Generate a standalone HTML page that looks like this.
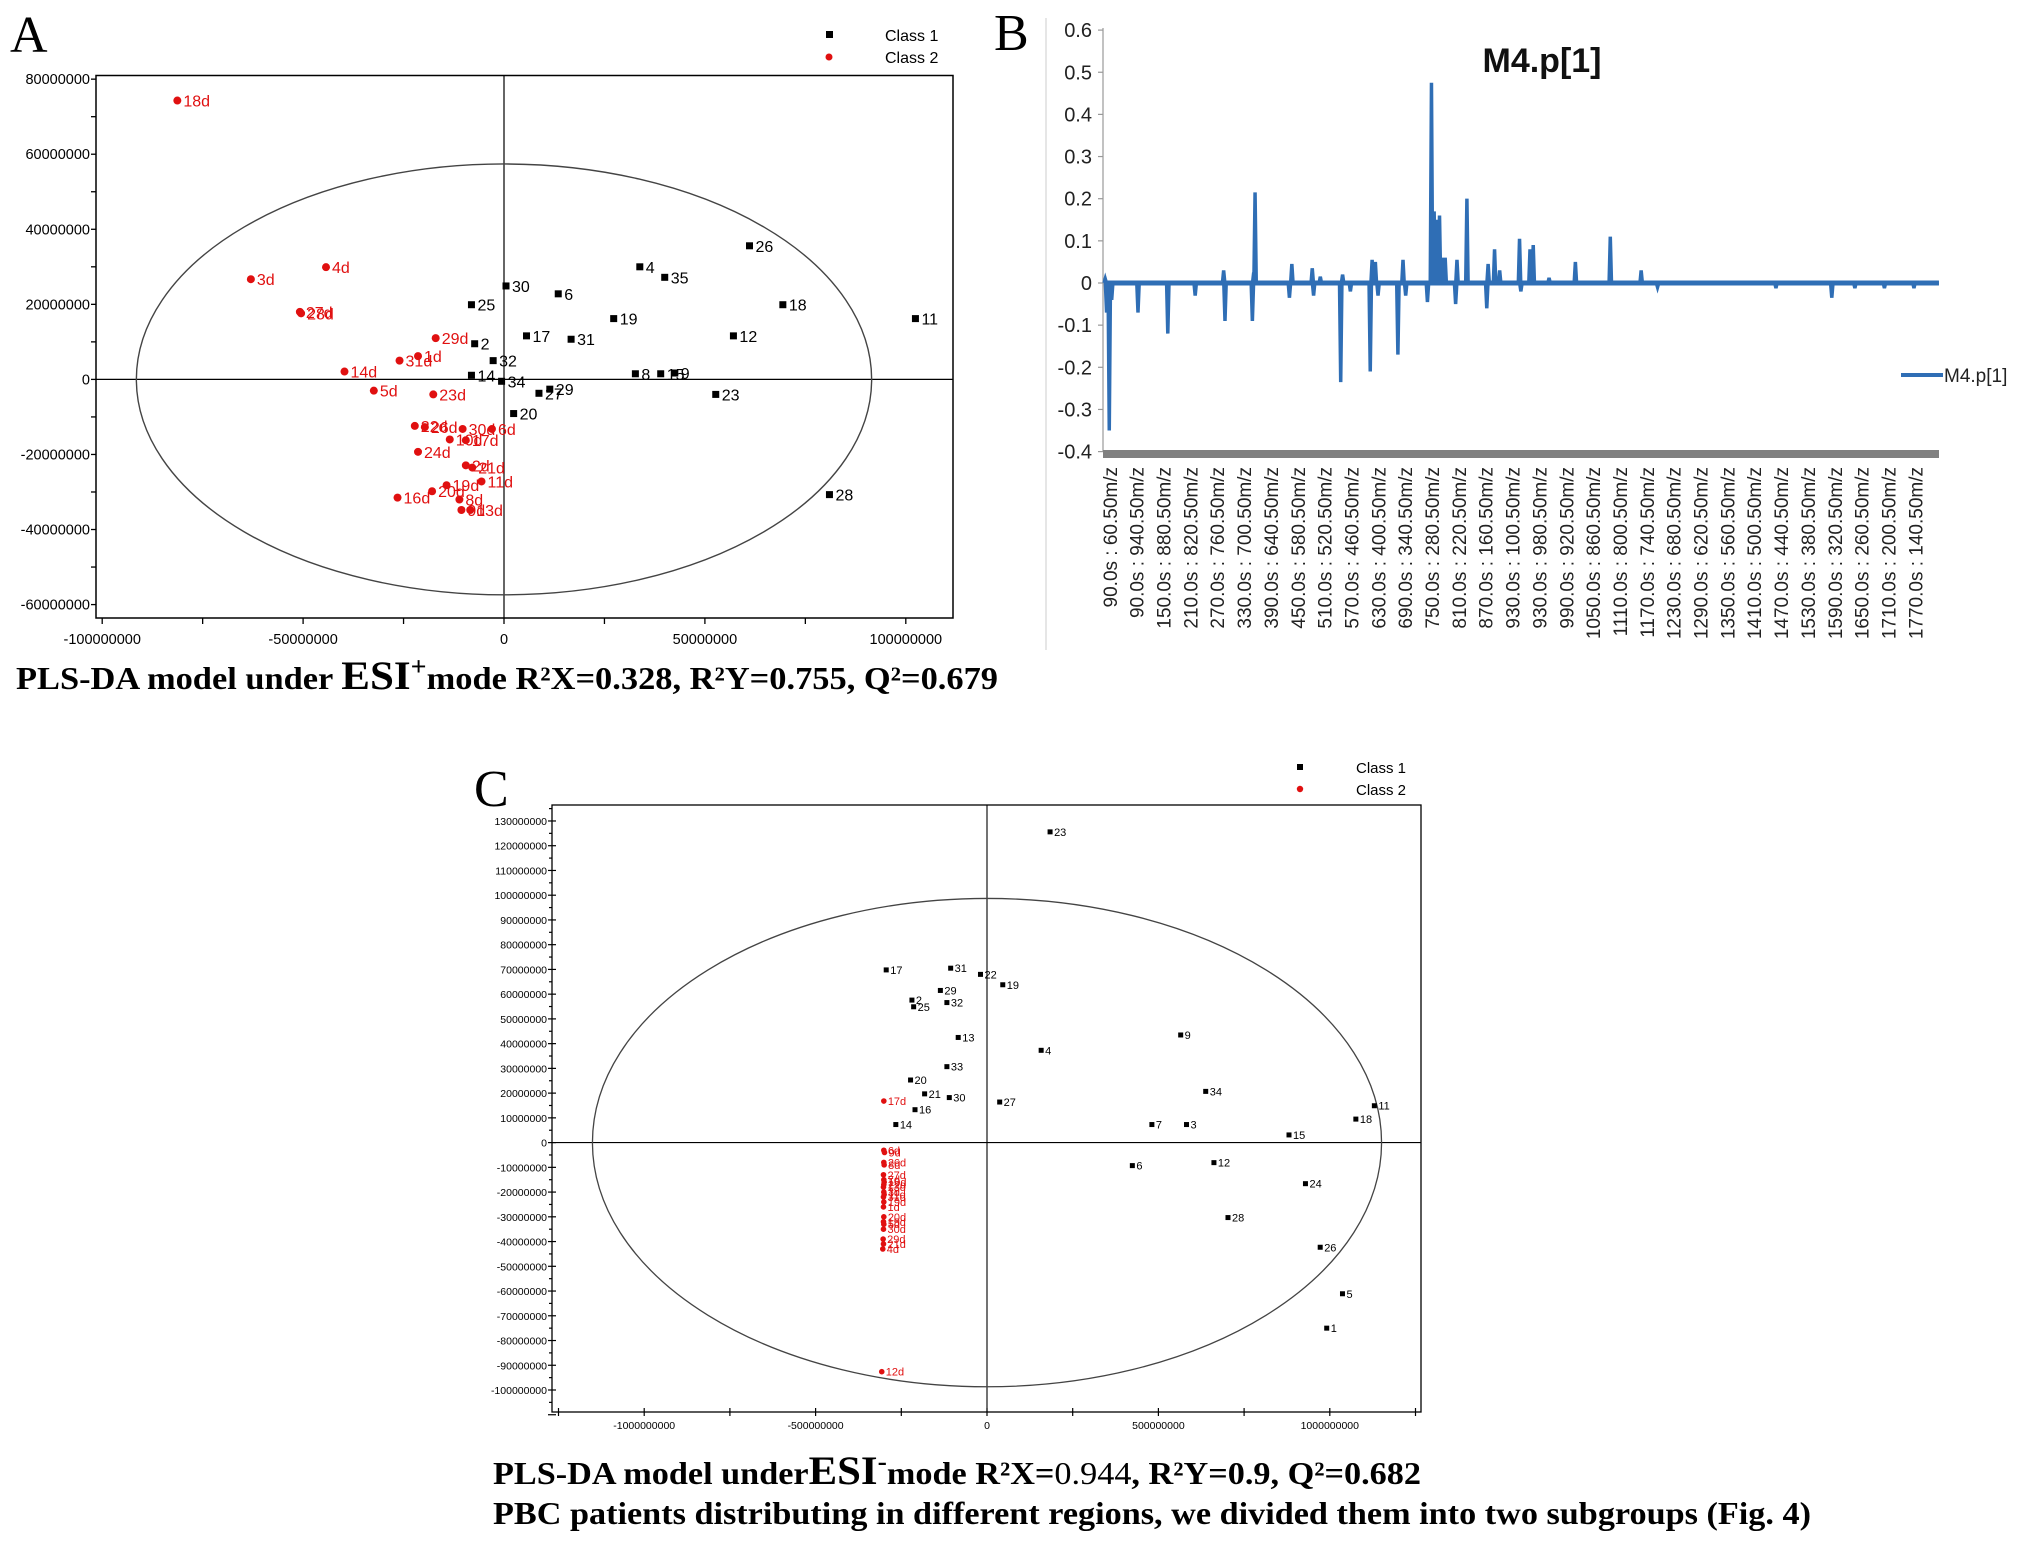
<!DOCTYPE html>
<html><head><meta charset="utf-8"><style>
html,body{margin:0;padding:0;background:#fff}
svg{display:block}
text{font-family:"Liberation Sans",sans-serif}
.serif{font-family:"Liberation Serif",serif;font-weight:bold}
</style></head><body>
<svg id="fig" width="2031" height="1546" viewBox="0 0 2031 1546" xmlns="http://www.w3.org/2000/svg">
<text x="10" y="52" class="serif" style="font-weight:normal" font-size="52">A</text>
<text x="994" y="50" class="serif" style="font-weight:normal" font-size="52">B</text>
<text x="474" y="806" class="serif" style="font-weight:normal" font-size="52">C</text>
<g id="A"></g>
<g id="B"></g>
<g id="C"></g>
<text x="16" y="689" class="serif" font-size="32" textLength="982" lengthAdjust="spacingAndGlyphs">PLS-DA model under <tspan font-size="40">ESI</tspan><tspan font-size="26" dy="-14">+</tspan><tspan dy="14">mode R²X=0.328, R²Y=0.755, Q²=0.679</tspan></text>
<text x="493" y="1484" class="serif" font-size="32" textLength="928" lengthAdjust="spacingAndGlyphs">PLS-DA model under<tspan font-size="40">ESI</tspan><tspan font-size="26" dy="-14">-</tspan><tspan dy="14">mode R²X=</tspan><tspan style="font-weight:normal">0.944</tspan>, R²Y=0.9, Q²=0.682</text>
<text x="493" y="1524" class="serif" font-size="32" textLength="1318" lengthAdjust="spacingAndGlyphs">PBC patients distributing in different regions, we divided them into two subgroups (Fig. 4)</text>
</svg>
<script>
const NS="http://www.w3.org/2000/svg";
// ---------- Panel A data (millions) ----------
const aC1Labels=["26","4","35","30","6","25","18","19","11","17","12","31","2","32","14","34","8","15","9","29","27","23","20","28"];
const aC1X=[61.1,33.8,40,0.5,13.5,-8.1,69.4,27.3,102.4,5.6,57.1,16.7,-7.3,-2.7,-8.1,-0.6,32.7,39,42.5,11.4,8.7,52.7,2.4,81];
const aC1Y=[35.6,30,27.2,24.9,22.8,19.9,19.9,16.2,16.2,11.6,11.6,10.7,9.5,5,1.1,-0.5,1.5,1.5,1.7,-2.6,-3.7,-4,-9.1,-30.7];
const aC2Labels=["18d","4d","3d","27d","28d","29d","1d","31d","14d","5d","23d","22d","26d","30d","6d","10d","17d","24d","2d","21d","11d","19d","20d","16d","8d","9d","13d"];
const aC2X=[-81.3,-44.3,-63,-50.8,-50.5,-17,-21.4,-26,-39.7,-32.4,-17.6,-22.2,-19.7,-10.3,-3,-13.5,-9.5,-21.4,-9.5,-7.9,-5.6,-14.3,-17.9,-26.5,-11.1,-10.6,-8.4];
const aC2Y=[74.3,29.9,26.7,18,17.6,11,6.2,5,2.1,-3,-4,-12.4,-12.7,-13.2,-13.2,-16,-16.2,-19.3,-22.9,-23.5,-27.2,-28.2,-29.8,-31.5,-32,-34.8,-34.8];
const aYTicks=[80,60,40,20,0,-20,-40,-60];
const aYTickLabels=["80000000","60000000","40000000","20000000","0","-20000000","-40000000","-60000000"];
const aXTicks=[-100,-50,0,50,100];
const aXTickLabels=["-100000000","-50000000","0","50000000","100000000"];
const aEllipse=[91.5,57.4];
// ---------- Panel B data ----------
const bCategories=["90.0s : 60.50m/z","90.0s : 940.50m/z","150.0s : 880.50m/z","210.0s : 820.50m/z","270.0s : 760.50m/z","330.0s : 700.50m/z","390.0s : 640.50m/z","450.0s : 580.50m/z","510.0s : 520.50m/z","570.0s : 460.50m/z","630.0s : 400.50m/z","690.0s : 340.50m/z","750.0s : 280.50m/z","810.0s : 220.50m/z","870.0s : 160.50m/z","930.0s : 100.50m/z","930.0s : 980.50m/z","990.0s : 920.50m/z","1050.0s : 860.50m/z","1110.0s : 800.50m/z","1170.0s : 740.50m/z","1230.0s : 680.50m/z","1290.0s : 620.50m/z","1350.0s : 560.50m/z","1410.0s : 500.50m/z","1470.0s : 440.50m/z","1530.0s : 380.50m/z","1590.0s : 320.50m/z","1650.0s : 260.50m/z","1710.0s : 200.50m/z","1770.0s : 140.50m/z"];
const bSpikePos=[-0.17,-0.12,-0.02,0.07,1.05,2.16,3.18,4.24,4.29,5.31,5.36,5.41,6.69,6.78,7.54,7.59,7.84,8.6,8.67,8.96,9.7,9.77,9.89,9.99,10.73,10.92,11.02,11.83,11.98,12.08,12.18,12.28,12.37,12.49,12.88,12.93,13.3,14.04,14.09,14.33,14.52,15.26,15.31,15.65,15.77,16.36,17.34,18.64,19.79,20.4,24.81,26.89,27.75,28.85,29.95];
const bSpikeVal=[0.01,-0.07,-0.35,-0.04,-0.07,-0.12,-0.03,0.03,-0.09,-0.09,0.025,0.215,-0.035,0.045,0.035,-0.03,0.015,-0.235,0.02,-0.02,-0.21,0.055,0.05,-0.03,-0.17,0.055,-0.03,-0.045,0.475,0.17,0.15,0.16,0.06,0.06,-0.05,0.055,0.2,-0.06,0.045,0.08,0.03,0.105,-0.02,0.08,0.09,0.012,0.05,0.11,0.03,-0.01,-0.012,-0.035,-0.012,-0.012,-0.012];
const bYTicks=[0.6,0.5,0.4,0.3,0.2,0.1,0,-0.1,-0.2,-0.3,-0.4];
const bYTickLabels=["0.6","0.5","0.4","0.3","0.2","0.1","0","-0.1","-0.2","-0.3","-0.4"];
// ---------- Panel C data (millions) ----------
const cC1Labels=["23","17","31","22","19","29","2","25","32","13","9","4","33","20","34","21","30","27","16","11","18","14","7","3","15","6","12","24","28","26","5","1"];
const cC1X=[184,-294,-106,-19,46,-136,-219,-214,-117,-84,565,158,-117,-223,638,-182,-110,37,-210,1130,1076,-266,481,582,881,424,662,929,703,972,1037,991];
const cC1Y=[125.6,69.8,70.5,68,63.8,61.5,57.6,54.9,56.6,42.5,43.5,37.3,30.7,25.3,20.7,19.7,18.2,16.4,13.3,14.9,9.5,7.3,7.3,7.3,3.1,-9.3,-8.1,-16.6,-30.3,-42.3,-61.1,-75];
const cC2Labels=["17d","6d","9d","26d","8d","27d","7d","10d","22d","13d","3d","11d","31d","19d","1d","20d","15d","5d","30d","29d","21d","4d","12d"];
const cC2X=[-301,-301,-299,-301,-300,-302,-301,-300,-301,-302,-301,-300,-302,-301,-302,-301,-302,-301,-302,-303,-302,-304,-307];
const cC2Y=[16.8,-3.1,-4,-8,-9,-13,-15,-16,-17,-18,-20,-21,-22,-24,-26,-30,-32,-33,-35,-39,-41,-43,-92.6];
const cYTicks=[130,120,110,100,90,80,70,60,50,40,30,20,10,0,-10,-20,-30,-40,-50,-60,-70,-80,-90,-100];
const cXTicks=[-1000,-500,0,500,1000];
const cXTickLabels=["-1000000000","-500000000","0","500000000","1000000000"];
const cEllipse=[1151,98.7];

function mk(parent,tag,attrs,txt){const e=document.createElementNS(NS,tag);for(const k in attrs)e.setAttribute(k,attrs[k]);if(txt!==undefined)e.textContent=txt;parent.appendChild(e);return e;}

// ===== Panel A =====
(function(){
const g=document.getElementById('A');
const xA=v=>504+v*4.018, yA=v=>379.4-v*3.753;
let e=mk(g,'rect',{x:96,y:75.5,width:857,height:542.5,fill:'none',stroke:'#000','stroke-width':1.5});

for(let v=-60;v<=80;v+=10){e=mk(g,'line',{x1:91,x2:96,y1:yA(v),y2:yA(v),stroke:'#000','stroke-width':1.3});}
for(let v=-100;v<=100;v+=25){e=mk(g,'line',{x1:xA(v),x2:xA(v),y1:618,y2:624,stroke:'#000','stroke-width':1.3});}
aYTicks.forEach((v,i)=>{e=mk(g,'text',{x:90,y:yA(v)+5,'text-anchor':'end','font-size':14.5},aYTickLabels[i]);});
aXTicks.forEach((v,i)=>{e=mk(g,'text',{x:xA(v),y:644,'text-anchor':'middle','font-size':14.5},aXTickLabels[i]);});
e=mk(g,'line',{x1:xA(0),x2:xA(0),y1:75.5,y2:618,stroke:'#000','stroke-width':1.2});
e=mk(g,'line',{x1:96,x2:953,y1:yA(0),y2:yA(0),stroke:'#000','stroke-width':1.2});
e=mk(g,'ellipse',{cx:xA(0),cy:yA(0),rx:xA(aEllipse[0])-xA(0),ry:yA(0)-yA(aEllipse[1]),fill:'none',stroke:'#444','stroke-width':1.4});
aC1X.forEach((x,i)=>{e=mk(g,'rect',{x:xA(x)-3.5,y:yA(aC1Y[i])-3.5,width:7,height:7,fill:'#000'});
e=mk(g,'text',{x:xA(x)+6,y:yA(aC1Y[i])+6,'font-size':16},aC1Labels[i]);});
aC2X.forEach((x,i)=>{e=mk(g,'circle',{cx:xA(x),cy:yA(aC2Y[i]),r:4,fill:'#e01010'});
e=mk(g,'text',{x:xA(x)+6,y:yA(aC2Y[i])+6,'font-size':16,fill:'#e01010'},aC2Labels[i]);});
e=mk(g,'rect',{x:826,y:31,width:7,height:7,fill:'#000'});
e=mk(g,'text',{x:885,y:41,'font-size':16},'Class 1');
e=mk(g,'circle',{cx:829,cy:57,r:3.5,fill:'#e01010'});
e=mk(g,'text',{x:885,y:63,'font-size':16},'Class 2');
})();

// ===== Panel B =====
(function(){
const g=document.getElementById('B');
const xB=i=>1109.8+i*26.85, yB=v=>283-v*421.5;
let e=mk(g,'line',{x1:1046,x2:1046,y1:18,y2:650,stroke:'#ddd','stroke-width':1.5});
e=mk(g,'line',{x1:1103,x2:1103,y1:28,y2:452,stroke:'#999','stroke-width':1.2});
bYTicks.forEach((v,i)=>{e=mk(g,'line',{x1:1098,x2:1103,y1:yB(v),y2:yB(v),stroke:'#999','stroke-width':1.2});
e=mk(g,'text',{x:1092,y:yB(v)+7,'text-anchor':'end','font-size':20,fill:'#222'},bYTickLabels[i]);});
e=mk(g,'rect',{x:1103,y:450,width:836,height:8,fill:'#808080'});
bCategories.forEach((c,i)=>{e=mk(g,'text',{x:0,y:0,'text-anchor':'end','font-size':19,fill:'#222',transform:`translate(${xB(i)+7},467) rotate(-90)`},c);});
e=mk(g,'text',{x:1542,y:72,'text-anchor':'middle','font-size':34,'font-weight':'bold',fill:'#111'},'M4.p[1]');
e=mk(g,'line',{x1:xB(-0.2),x2:xB(30.88),y1:yB(0),y2:yB(0),stroke:'#2f6eb5','stroke-width':5});
let d=`M${xB(-0.22)},${yB(0)}`;
bSpikePos.forEach((p,i)=>{d+=` L${xB(p)-1.2},${yB(0)} L${xB(p)},${yB(bSpikeVal[i])} L${xB(p)+1.2},${yB(0)}`;});
d+=` L${xB(30.88)},${yB(0)}`;
e=mk(g,'path',{d:d,fill:'none',stroke:'#2f6eb5','stroke-width':3.5,'stroke-linejoin':'miter'});
e=mk(g,'line',{x1:1901,x2:1943,y1:375,y2:375,stroke:'#2f6eb5','stroke-width':4});
e=mk(g,'text',{x:1944,y:382,'font-size':19,fill:'#222'},'M4.p[1]');
})();

// ===== Panel C =====
(function(){
const g=document.getElementById('C');
const xC=v=>987+v*0.3428, yC=v=>1142.6-v*2.474;
let e=mk(g,'rect',{x:552,y:805,width:869,height:607,fill:'none',stroke:'#000','stroke-width':1.3});
for(let v=-110;v<=135;v+=5){const maj=v%10===0;e=mk(g,'line',{x1:maj?548:549,x2:maj?556:552,y1:yC(v),y2:yC(v),stroke:'#000','stroke-width':1.2});}
cYTicks.forEach(v=>{e=mk(g,'text',{x:547,y:yC(v)+4,'text-anchor':'end','font-size':10.5},String(v*1000000));});
for(let v=-1250;v<=1250;v+=250){e=mk(g,'line',{x1:xC(v),x2:xC(v),y1:1408,y2:1416,stroke:'#000','stroke-width':1.2});}
cXTicks.forEach((v,i)=>{e=mk(g,'text',{x:xC(v),y:1429,'text-anchor':'middle','font-size':10.5},cXTickLabels[i]);});
e=mk(g,'line',{x1:xC(0),x2:xC(0),y1:805,y2:1412,stroke:'#000','stroke-width':1.1});
e=mk(g,'line',{x1:552,x2:1421,y1:yC(0),y2:yC(0),stroke:'#000','stroke-width':1.1});
e=mk(g,'ellipse',{cx:xC(0),cy:yC(0),rx:xC(cEllipse[0])-xC(0),ry:yC(0)-yC(cEllipse[1]),fill:'none',stroke:'#444','stroke-width':1.3});
cC1X.forEach((x,i)=>{e=mk(g,'rect',{x:xC(x)-2.5,y:yC(cC1Y[i])-2.5,width:5,height:5,fill:'#000'});
e=mk(g,'text',{x:xC(x)+4,y:yC(cC1Y[i])+4,'font-size':11},cC1Labels[i]);});
cC2X.forEach((x,i)=>{e=mk(g,'circle',{cx:xC(x),cy:yC(cC2Y[i]),r:2.8,fill:'#e01010'});
e=mk(g,'text',{x:xC(x)+4,y:yC(cC2Y[i])+4,'font-size':11,fill:'#e01010'},cC2Labels[i]);});
e=mk(g,'rect',{x:1297,y:764,width:6,height:6,fill:'#000'});
e=mk(g,'text',{x:1356,y:773,'font-size':15},'Class 1');
e=mk(g,'circle',{cx:1300,cy:789,r:3.2,fill:'#e01010'});
e=mk(g,'text',{x:1356,y:795,'font-size':15},'Class 2');
})();
</script>
</body></html>
